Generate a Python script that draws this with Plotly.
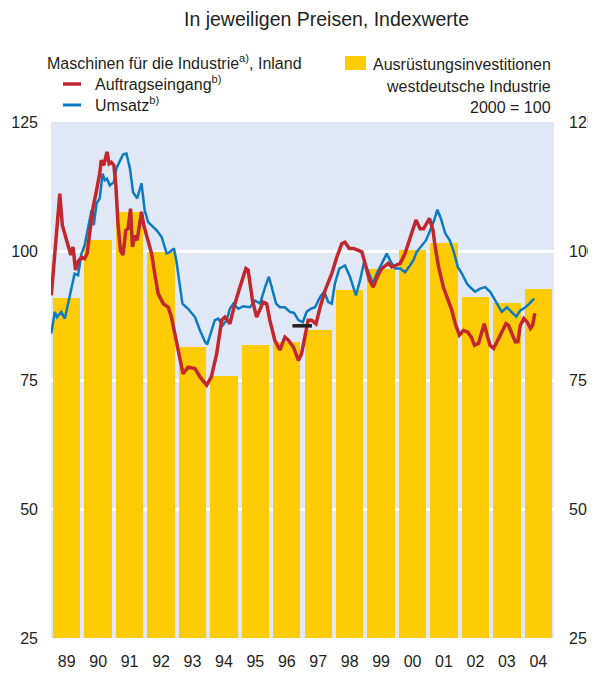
import plotly.graph_objects as go

# ---------------- data ----------------
years = list(range(1989, 2005))
year_labels = ["89", "90", "91", "92", "93", "94", "95", "96", "97", "98", "99", "00", "01", "02", "03", "04"]
invest = [90.9, 102.1, 107.6, 99.8, 81.3, 75.8, 81.8, 82.4, 84.7, 92.4, 96.5, 100.1, 101.6, 91.0, 89.9, 92.6]

order_x = [1989.01, 1989.28, 1989.36, 1989.49, 1989.57, 1989.63, 1989.70, 1989.78, 1989.86, 1989.97,
           1990.07, 1990.15, 1990.23, 1990.34, 1990.45, 1990.55, 1990.60, 1990.68, 1990.78, 1990.85,
           1990.92, 1991.00, 1991.06, 1991.13, 1991.21, 1991.29, 1991.38, 1991.45, 1991.53, 1991.59,
           1991.67, 1991.74, 1991.82, 1991.88, 1991.95, 1992.06, 1992.20, 1992.30, 1992.41, 1992.57,
           1992.73, 1992.83, 1992.99, 1993.10, 1993.20, 1993.36, 1993.58, 1993.74, 1993.95, 1994.10,
           1994.27, 1994.43, 1994.53, 1994.69, 1994.85, 1995.01, 1995.20, 1995.27, 1995.41, 1995.54,
           1995.62, 1995.75, 1995.86, 1995.96, 1996.12, 1996.28, 1996.44, 1996.55, 1996.71, 1996.87,
           1996.97, 1997.08, 1997.18, 1997.29, 1997.43, 1997.56, 1997.72, 1997.93, 1998.09, 1998.25,
           1998.35, 1998.49, 1998.62, 1998.78, 1998.89, 1998.99, 1999.13, 1999.25, 1999.38, 1999.52,
           1999.63, 1999.73, 1999.84, 1999.98, 2000.11, 2000.26, 2000.42, 2000.61, 2000.74, 2000.85,
           2001.04, 2001.15, 2001.22, 2001.33, 2001.48, 2001.64, 2001.75, 2001.86, 2001.99, 2002.12,
           2002.25, 2002.37, 2002.47, 2002.60, 2002.71, 2002.78, 2002.89, 2002.97, 2003.08, 2003.20,
           2003.34, 2003.47, 2003.55, 2003.66, 2003.77, 2003.85, 2003.93, 2004.04, 2004.15, 2004.25,
           2004.32, 2004.39]
order_y = [91.4, 111.1, 105.0, 102.4, 100.8, 99.2, 100.8, 96.3, 97.9, 98.8,
           98.5, 99.5, 103.4, 108.5, 111.8, 115.0, 117.6, 116.6, 119.2, 116.9,
           117.2, 116.6, 113.1, 105.3, 100.1, 99.2, 104.0, 104.3, 108.2, 100.8,
           103.0, 102.1, 105.3, 107.6, 105.0, 102.7, 99.5, 95.6, 91.7, 89.8,
           89.1, 87.2, 82.7, 79.5, 76.2, 77.5, 77.2, 75.6, 74.0, 75.6,
           80.1, 86.6, 87.2, 85.9, 89.8, 93.0, 96.6, 96.3, 90.4, 87.2,
           88.2, 90.1, 89.8, 86.6, 82.7, 80.8, 83.3, 82.7, 81.4, 78.8,
           80.1, 84.0, 86.6, 86.6, 85.9, 89.1, 92.4, 95.6, 98.8, 101.4,
           101.7, 100.5, 100.5, 100.1, 99.8, 97.6, 94.3, 93.0, 95.0, 96.6,
           97.2, 97.6, 96.9, 97.2, 97.6, 99.5, 102.7, 106.0, 104.3, 104.3,
           106.3, 104.0, 100.8, 96.9, 93.0, 90.4, 88.5, 85.9, 83.7, 84.6,
           84.3, 83.3, 81.7, 82.1, 84.6, 85.9, 83.3, 81.7, 81.1, 82.7,
           84.3, 85.9, 85.6, 84.0, 82.4, 82.4, 85.6, 86.9, 86.2, 85.0,
           85.6, 87.9]

sales_x = [1989.01, 1989.12, 1989.19, 1989.33, 1989.44, 1989.54, 1989.65, 1989.75, 1989.86, 1989.97,
           1990.07, 1990.18, 1990.29, 1990.36, 1990.45, 1990.55, 1990.64, 1990.71, 1990.78, 1990.87,
           1991.00, 1991.08, 1991.19, 1991.29, 1991.40, 1991.51, 1991.61, 1991.74, 1991.88, 1991.98,
           1992.09, 1992.20, 1992.36, 1992.52, 1992.68, 1992.78, 1992.91, 1992.99, 1993.18, 1993.36,
           1993.58, 1993.74, 1993.90, 1993.97, 1994.08, 1994.21, 1994.32, 1994.46, 1994.59, 1994.69,
           1994.80, 1994.96, 1995.11, 1995.33, 1995.49, 1995.65, 1995.81, 1995.93, 1996.02, 1996.16,
           1996.28, 1996.44, 1996.60, 1996.73, 1996.87, 1997.01, 1997.13, 1997.26, 1997.40, 1997.56,
           1997.69, 1997.82, 1997.93, 1998.03, 1998.17, 1998.35, 1998.51, 1998.70, 1998.83, 1998.96,
           1999.10, 1999.24, 1999.36, 1999.52, 1999.68, 1999.81, 1999.95, 2000.11, 2000.26, 2000.42,
           2000.53, 2000.63, 2000.80, 2000.93, 2001.06, 2001.19, 2001.29, 2001.40, 2001.54, 2001.68,
           2001.80, 2001.94, 2002.07, 2002.23, 2002.33, 2002.49, 2002.65, 2002.81, 2002.97, 2003.13,
           2003.24, 2003.34, 2003.50, 2003.61, 2003.80, 2003.93, 2004.09, 2004.22, 2004.37]
sales_y = [84.0, 88.2, 87.2, 88.2, 86.9, 89.8, 93.0, 95.6, 95.3, 99.5,
           101.1, 104.3, 107.9, 105.0, 109.2, 110.2, 115.0, 113.7, 114.0, 112.7,
           113.4, 116.0, 117.6, 118.7, 118.9, 116.0, 111.4, 110.2, 113.1, 107.9,
           105.6, 105.0, 104.0, 102.7, 99.5, 99.8, 100.5, 98.0, 89.8, 88.8,
           87.2, 84.6, 82.4, 81.9, 84.0, 86.6, 86.9, 85.6, 86.6, 88.8,
           89.8, 88.8, 89.3, 89.1, 90.4, 89.8, 93.0, 95.0, 93.0, 89.8,
           89.1, 89.1, 88.2, 88.0, 86.6, 86.2, 88.2, 88.8, 89.1, 91.1,
           92.1, 90.1, 89.8, 93.7, 96.6, 97.2, 95.0, 91.4, 94.3, 97.9,
           95.9, 93.7, 95.6, 97.6, 99.5, 97.9, 96.6, 96.6, 95.9, 97.2,
           98.2, 99.8, 101.1, 102.1, 104.0, 106.0, 108.0, 106.3, 103.4, 102.1,
           100.1, 96.9, 95.6, 93.7, 93.0, 92.1, 92.7, 93.0, 92.1, 90.4,
           89.1, 88.2, 89.1, 88.5, 87.3, 88.5, 89.1, 89.8, 90.8]

break_x = [1996.68, 1997.30]
break_y = [85.5, 85.5]

# ---------------- styles ----------------
FONT = "Liberation Sans, Arial, sans-serif"
TXT = "#231f20"
BG = "#e1e8f5"
YELLOW = "#ffcb05"
RED = "#c1272d"
BLUE = "#0a7bc0"
OFF = 8  # page body margin offset
W, H = 596 - OFF, 673 - OFF
ML, MR, MT, MB = 51 - OFF, 42, 122 - OFF, 35

fig = go.Figure()

fig.add_trace(go.Bar(
    x=[y + 0.5 for y in years], y=invest, width=0.87,
    marker=dict(color=YELLOW, line=dict(width=0)),
    showlegend=False, hoverinfo="skip",
))
fig.add_trace(go.Scatter(
    x=sales_x, y=sales_y, mode="lines",
    line=dict(color=BLUE, width=2.5), showlegend=False,
))
fig.add_trace(go.Scatter(
    x=order_x, y=order_y, mode="lines",
    line=dict(color=RED, width=3.5), showlegend=False,
))
fig.add_trace(go.Scatter(
    x=break_x, y=break_y, mode="lines",
    line=dict(color="#231f20", width=3.5), showlegend=False,
))
# invisible trace to activate right axis
fig.add_trace(go.Scatter(x=[1989, 2005], y=[25, 25], yaxis="y2", mode="lines",
                         line=dict(width=0), opacity=0, showlegend=False, hoverinfo="skip"))

tick_vals = [25, 50, 75, 100, 125]

fig.update_layout(
    width=W, height=H,
    margin=dict(l=ML, r=MR, t=MT, b=MB, autoexpand=False),
    paper_bgcolor="white", plot_bgcolor=BG,
    font=dict(family=FONT, size=16, color=TXT),
    bargap=0,
    xaxis=dict(
        range=[1989, 2005], tickmode="array",
        tickvals=[y + 0.5 for y in years], ticktext=year_labels,
        showgrid=False, zeroline=False, showline=False, ticks="",
        ticklabelstandoff=12, tickfont=dict(size=16, color=TXT), automargin=False,
    ),
    yaxis=dict(
        range=[25, 125], tickmode="array", tickvals=tick_vals,
        showgrid=True, gridcolor="white", gridwidth=3, zeroline=False,
        showline=False, ticks="", ticklabelstandoff=12,
        tickfont=dict(size=16, color=TXT), automargin=False,
    ),
    yaxis2=dict(
        range=[25, 125], tickmode="array", tickvals=tick_vals,
        overlaying="y", side="right", showgrid=False, zeroline=False,
        showline=False, ticks="", ticklabelstandoff=14,
        tickfont=dict(size=16, color=TXT), automargin=False,
    ),
)


def cx(px):
    return (px - OFF - ML) / (W - ML - MR)


def cy(py):
    return 1 - (py - OFF - MT) / (H - MT - MB)


texts = [
    ("In jeweiligen Preisen, Indexwerte", 326, 19, "center", 19.5),
    ("Maschinen für die Industrie<sup>a)</sup>, Inland", 45, 62, "left", 16),
    ("Auftragseingang<sup>b)</sup>", 93, 83, "left", 16),
    ("Umsatz<sup>b)</sup>", 93, 104, "left", 16),
    ("Ausrüstungsinvestitionen", 553, 64, "right", 16),
    ("westdeutsche Industrie", 553, 86, "right", 16),
    ("2000 = 100", 553, 108, "right", 16),
]
fig.update_layout(annotations=[
    dict(text=t, x=cx(px), y=cy(py), xref="paper", yref="paper", showarrow=False,
         xanchor=anc, yanchor="middle", font=dict(size=fs, color=TXT))
    for t, px, py, anc, fs in texts
])

fig.add_shape(type="line", xref="paper", yref="paper", x0=cx(63), x1=cx(81), y0=cy(84), y1=cy(84),
              line=dict(color=RED, width=3.5))
fig.add_shape(type="line", xref="paper", yref="paper", x0=cx(63), x1=cx(81), y0=cy(105), y1=cy(105),
              line=dict(color=BLUE, width=3))
fig.add_shape(type="rect", xref="paper", yref="paper", x0=cx(345), x1=cx(366), y0=cy(56), y1=cy(70),
              line=dict(width=0), fillcolor=YELLOW)

fig.write_html("out.html")
